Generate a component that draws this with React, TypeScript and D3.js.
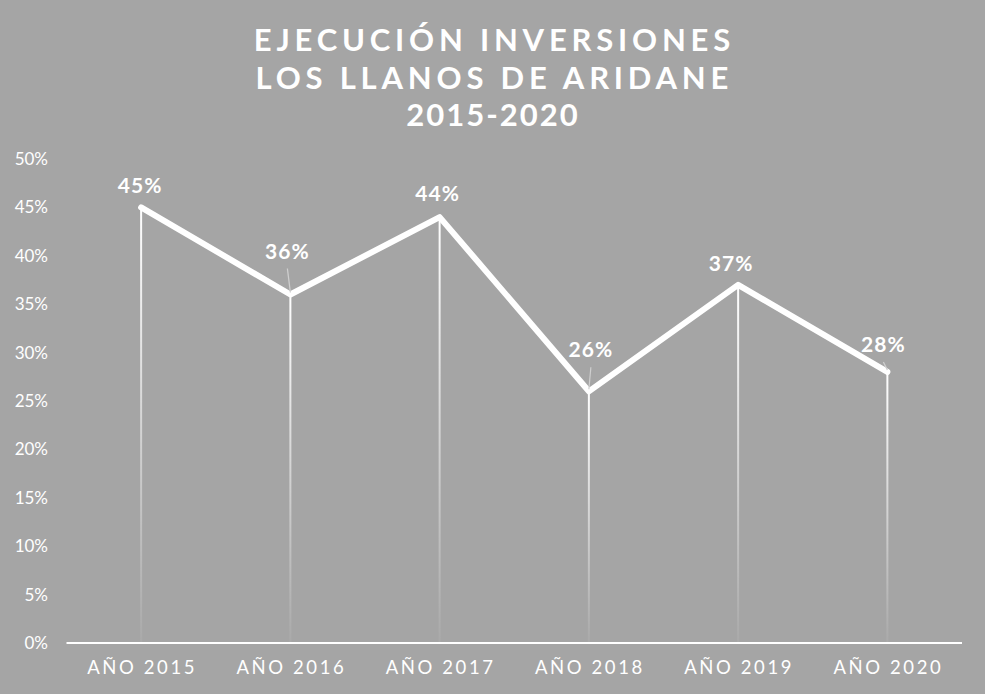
import React, { useRef, useEffect } from 'react';
import * as d3 from 'd3';

const categories = ['AÑO 2015', 'AÑO 2016', 'AÑO 2017', 'AÑO 2018', 'AÑO 2019', 'AÑO 2020'];
const values = [45, 36, 44, 26, 37, 28];
const yTicks = [0, 5, 10, 15, 20, 25, 30, 35, 40, 45, 50];
const titleLines = ['EJECUCIÓN INVERSIONES', 'LOS LLANOS DE ARIDANE', '2015-2020'];
const titleSpacing = [4.8, 4.8, 2];
// labels that sit a little away from the point get a leader line
const labelOffsets = [
  { dx: -1, dy: -14, leader: false },
  { dx: -3, dy: -36, leader: true },
  { dx: -2, dy: -16, leader: false },
  { dx: 2, dy: -34, leader: true },
  { dx: -7, dy: -14, leader: false },
  { dx: -4, dy: -20, leader: true },
];

const W = 985;
const H = 694;
const font = "'Lato', 'Open Sans', sans-serif";

const App = () => {
  const svgRef = useRef<SVGSVGElement | null>(null);

  useEffect(() => {
    if (!svgRef.current) return;
    const svg = d3.select(svgRef.current);
    svg.selectAll('*').remove();

    svg.append('rect').attr('width', W).attr('height', H).attr('fill', '#a5a5a5');

    const defs = svg.append('defs');
    const grad = defs.append('linearGradient')
      .attr('id', 'dropFade')
      .attr('x1', 0).attr('y1', 0).attr('x2', 0).attr('y2', 1);
    grad.append('stop').attr('offset', '0%').attr('stop-color', '#fff').attr('stop-opacity', 1);
    grad.append('stop').attr('offset', '100%').attr('stop-color', '#fff').attr('stop-opacity', 0.05);

    const x = d3.scaleBand<string>().domain(categories).range([66.5, 962]);
    const y = d3.scaleLinear().domain([0, 50]).range([643, 159]);
    const cx = (c: string) => (x(c) ?? 0) + x.bandwidth() / 2;

    // Title
    titleLines.forEach((t, i) => {
      svg.append('text')
        .attr('x', 492 + titleSpacing[i] / 2)
        .attr('y', 51 + i * 37.5)
        .attr('text-anchor', 'middle')
        .attr('fill', '#fff')
        .style('font-family', font)
        .style('font-weight', 700)
        .style('font-size', '31px')
        .style('letter-spacing', `${titleSpacing[i]}px`)
        .text(t);
    });

    // Y axis labels
    svg.append('g')
      .selectAll('text')
      .data(yTicks)
      .enter()
      .append('text')
      .attr('x', 48)
      .attr('y', d => y(d) + 6)
      .attr('text-anchor', 'end')
      .attr('fill', '#fff')
      .style('font-family', font)
      .style('font-size', '17px')
      .text(d => `${d}%`);

    // Drop lines
    svg.append('g')
      .selectAll('rect')
      .data(values)
      .enter()
      .append('rect')
      .attr('x', (_, i) => cx(categories[i]) - 1)
      .attr('y', d => y(d))
      .attr('width', 2)
      .attr('height', d => y(0) - y(d))
      .attr('fill', 'url(#dropFade)');

    // X axis line
    svg.append('line')
      .attr('x1', 66.5).attr('x2', 962)
      .attr('y1', y(0)).attr('y2', y(0))
      .attr('stroke', '#fff')
      .attr('stroke-width', 2);

    // X labels
    svg.append('g')
      .selectAll('text')
      .data(categories)
      .enter()
      .append('text')
      .attr('x', d => cx(d) + 1)
      .attr('y', 674)
      .attr('text-anchor', 'middle')
      .attr('fill', '#fff')
      .style('font-family', font)
      .style('font-size', '18.5px')
      .style('letter-spacing', '2.6px')
      .text(d => d);

    // Line
    const line = d3.line<number>()
      .x((_, i) => cx(categories[i]))
      .y(d => y(d));
    svg.append('path')
      .datum(values)
      .attr('fill', 'none')
      .attr('stroke', '#fff')
      .attr('stroke-width', 6)
      .attr('stroke-linejoin', 'round')
      .attr('stroke-linecap', 'round')
      .attr('d', line);

    // Leader lines
    values.forEach((v, i) => {
      const o = labelOffsets[i];
      if (!o.leader) return;
      svg.append('line')
        .attr('x1', cx(categories[i]) + o.dx)
        .attr('y1', y(v) + o.dy + 10)
        .attr('x2', cx(categories[i]))
        .attr('y2', y(v) - 2)
        .attr('stroke', '#cfcfcf')
        .attr('stroke-width', 1.2);
    });

    // Data labels
    svg.append('g')
      .selectAll('text')
      .data(values)
      .enter()
      .append('text')
      .attr('x', (_, i) => cx(categories[i]) + labelOffsets[i].dx)
      .attr('y', (d, i) => y(d) + labelOffsets[i].dy)
      .attr('text-anchor', 'middle')
      .attr('fill', '#fff')
      .style('font-family', font)
      .style('font-weight', 700)
      .style('font-size', '21px')
      .style('letter-spacing', '1px')
      .text(d => `${d}%`);
  }, []);

  return (
    <svg
      ref={svgRef}
      width={W}
      height={H}
      style={{ display: 'block', position: 'absolute', left: 0, top: 0 }}
    />
  );
};

export default App;
